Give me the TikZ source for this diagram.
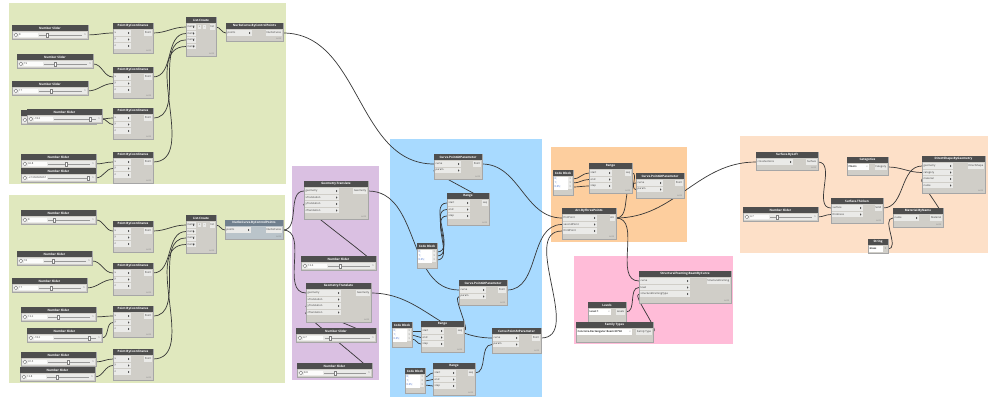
\documentclass[tikz,border=0pt]{standalone}
\usepackage{fontspec}
\setmainfont{Open Sans}
\usetikzlibrary{calc}
\pgfdeclarelayer{grp}
\pgfdeclarelayer{wirelayer}
\pgfsetlayers{grp,wirelayer,main}

\definecolor{grpgreen}{RGB}{224,232,190}
\definecolor{grppurple}{RGB}{218,192,226}
\definecolor{grpblue}{RGB}{168,218,255}
\definecolor{grporange}{RGB}{253,206,158}
\definecolor{grppink}{RGB}{255,188,216}
\definecolor{grppeach}{RGB}{253,224,200}
\definecolor{hdr}{RGB}{78,78,78}
\definecolor{bodyc}{RGB}{208,206,200}
\definecolor{portc}{RGB}{234,234,232}
\definecolor{wirec}{RGB}{55,55,55}
\definecolor{selhdr}{RGB}{112,128,142}
\definecolor{selbody}{RGB}{186,196,202}
\definecolor{codeblue}{RGB}{40,90,200}

\tikzset{
 hdrtext/.style={text=white, font=\fontsize{3}{3.5}\selectfont\bfseries, inner sep=0},
 porttext/.style={text=black!80, font=\fontsize{2.6}{3}\selectfont, inner sep=0},
 autotext/.style={text=black!55, font=\fontsize{1.8}{2}\selectfont, inner sep=0},
 codetext/.style={text=codeblue, font=\fontsize{2.6}{3}\selectfont, inner sep=0},
 wire/.style={draw=wirec, line width=0.7pt},
 frame/.style={draw=black!35, line width=0.3pt, inner sep=0, rectangle},
}

% Dynamo node: name x y w h title inputs inputwidth outputlabel
\newcommand{\dnode}[9]{%
  \fill[bodyc] (#2,#3) rectangle ++(#4,#5);
  \node[frame, minimum width=#4pt, minimum height=#5pt, anchor=north west] (#1) at (#2,#3) {};
  \fill[hdr] (#2,#3) rectangle ++(#4,6);
  \node[hdrtext] (#1-t) at ({#2+#4/2},{#3+3}) {#6};
  \foreach \lab [count=\i] in {#7} {
    \pgfmathsetmacro\ry{#3+10+6.5*(\i-1)}
    \fill[portc] ({#2+0.8},{\ry-2.7}) rectangle ({#2+#8},{\ry+2.7});
    \node[porttext, anchor=west] (#1-l\i) at ({#2+1.5},\ry) {\lab};
    \fill[black!70] ({#2+#8-3},{\ry-1.2}) -- ({#2+#8-1.6},\ry) -- ({#2+#8-3},{\ry+1.2}) -- cycle;
    \coordinate (#1-in\i) at (#2,\ry);
  }
  \node[porttext, fill=portc, inner sep=0.8pt, anchor=east, minimum height=5.4pt] (#1-ol) at ({#2+#4-0.8},{#3+10}) {#9};
  \coordinate (#1-out) at ({#2+#4},{#3+10});
  \node[autotext, anchor=south east] (#1-a) at ({#2+#4-1.5},{#3+#5-0.8}) {AUTO};
}

% Number slider: name x y w value thumbfraction
\newcommand{\slider}[6]{%
  \fill[bodyc] (#2,#3) rectangle ++(#4,13.5);
  \node[frame, minimum width=#4pt, minimum height=13.5pt, anchor=north west] (#1) at (#2,#3) {};
  \fill[hdr] (#2,#3) rectangle ++(#4,6);
  \node[hdrtext] (#1-t) at ({#2+#4/2},{#3+3}) {Number Slider};
  \fill[portc] ({#2+1},{#3+7.2}) rectangle ({#2+#4-1},{#3+12.6});
  \fill[white!85!portc] ({#2+6.5},{#3+7.6}) rectangle ({#2+0.34*#4},{#3+12.2});
  \draw[black!60, fill=white, line width=0.3pt] ({#2+3.8},{#3+9.9}) circle (1.9);
  \node[porttext, anchor=west] (#1-v) at ({#2+7},{#3+9.9}) {#5};
  \draw[black!40, line width=0.4pt] ({#2+0.36*#4},{#3+9.9}) -- ({#2+#4-6},{#3+9.9});
  \fill[white, draw=black!50, line width=0.2pt] ({#2+#6*#4-1},{#3+7.8}) rectangle ++(2,4.2);
  \node[porttext] (#1-ol) at ({#2+#4-3},{#3+9.9}) {>};
  \coordinate (#1-out) at ({#2+#4},{#3+9.9});
}

% Code block: name x y
\newcommand{\codeblock}[3]{%
  \fill[bodyc] (#2,#3) rectangle ++(20,25);
  \node[frame, minimum width=20pt, minimum height=25pt, anchor=north west] (#1) at (#2,#3) {};
  \fill[hdr] (#2,#3) rectangle ++(20,6);
  \node[hdrtext] (#1-t) at ({#2+10},{#3+3}) {Code Block};
  \fill[white] ({#2+1},{#3+7}) rectangle ({#2+14.5},{#3+19.5});
  \node[codetext, anchor=west] (#1-c1) at ({#2+1.5},{#3+9}) {0;};
  \node[codetext, anchor=west] (#1-c2) at ({#2+1.5},{#3+13}) {1;};
  \node[codetext, anchor=west] (#1-c3) at ({#2+1.5},{#3+17}) {0.05;};
  \foreach \k/\yy in {1/9,2/13,3/17} {
    \fill[portc] ({#2+15.3},{#3+\yy-1.8}) rectangle ({#2+19.3},{#3+\yy+1.8});
    \node[porttext] (#1-g\k) at ({#2+17.3},{#3+\yy}) {>};
    \coordinate (#1-o\k) at ({#2+20},{#3+\yy});
  }
}

% Selection node: name x y w h title value outlabel fieldwidth
\newcommand{\selnode}[9]{%
  \fill[bodyc] (#2,#3) rectangle ++(#4,#5);
  \node[frame, minimum width=#4pt, minimum height=#5pt, anchor=north west] (#1) at (#2,#3) {};
  \fill[hdr] (#2,#3) rectangle ++(#4,6);
  \node[hdrtext] (#1-t) at ({#2+#4/2},{#3+3}) {#6};
  \fill[white] ({#2+1},{#3+7.3}) rectangle ({#2+#9},{#3+12.7});
  \node[porttext, anchor=west, font=\fontsize{2.6}{3}\selectfont\bfseries] (#1-v) at ({#2+1.5},{#3+10}) {#7};
  \node[porttext, text=black!50] (#1-dd) at ({#2+#9-2},{#3+10}) {v};
  \node[porttext, fill=portc, inner sep=0.8pt, anchor=east, minimum height=5.4pt] (#1-ol) at ({#2+#4-0.8},{#3+10}) {#8};
  \coordinate (#1-out) at ({#2+#4},{#3+10});
}

\begin{document}
\begin{tikzpicture}[x=1pt,y=-1pt]
\useasboundingbox (0,0) rectangle (994,400);

\begin{pgfonlayer}{grp}
  \fill[white] (0,0) rectangle (994,400);
  \fill[grpgreen] (9,3) rectangle (286,184);
  \fill[grpgreen] (9,195) rectangle (285,383);
  \fill[grppurple] (292,166) rectangle (379,380);
  \fill[grpblue] (390,139) rectangle (542,397);
  \fill[grporange] (551,147) rectangle (687,242);
  \fill[grppink] (574,256) rectangle (733,344);
  \fill[grppeach] (740,136) rectangle (988,253);
\end{pgfonlayer}

% ---------- top green group ----------
\slider{ts1}{12}{25}{76}{8}{0.46}
\slider{ts2}{17}{54}{76}{19}{0.5}
\slider{ts3}{12}{81}{76}{17}{0.52}
% duplicate slider lying just behind the fourth one
\fill[bodyc] (21,110) rectangle ++(75,13.5);
\node[frame, minimum width=75pt, minimum height=13.5pt, anchor=north west] (ts4b) at (21,110) {};
\fill[hdr] (21,110) rectangle ++(75,6);
\fill[portc] (22,117.2) rectangle (95,122.6);
\draw[black!60, fill=white, line width=0.3pt] (24.8,119.9) circle (1.9);
\slider{ts4}{27}{109}{75}{-18.3}{0.84}
\slider{ts5}{21}{154}{75}{32.8}{0.6}
\slider{ts6}{21}{168}{75}{-2.1666666667}{0.9}
\dnode{tp1}{113}{23}{40}{30}{Point.ByCoordinates}{x,y,z}{18}{Point}
\dnode{tp2}{113}{67}{40}{31}{Point.ByCoordinates}{x,y,z}{18}{Point}
\dnode{tp3}{113}{108}{40}{31}{Point.ByCoordinates}{x,y,z}{18}{Point}
\dnode{tp4}{113}{152}{40}{31}{Point.ByCoordinates}{x,y,z}{18}{Point}
\dnode{tl}{186}{17}{30}{39}{List.Create}{item0,item1,item2,item3}{10}{list}
\node[porttext, fill=portc, minimum width=3.6pt, minimum height=4.6pt] (tlplus) at (199.5,27) {+};
\node[porttext, fill=portc, minimum width=3.6pt, minimum height=4.6pt] (tlminus) at (204.5,27) {-};
\dnode{tn}{226}{23}{57}{18}{NurbsCurve.ByControlPoints}{points}{26}{NurbsCurve}

% ---------- bottom green group ----------
\slider{bs1}{21}{210}{75}{8}{0.44}
\slider{bs2}{17}{251}{75}{18}{0.48}
\slider{bs3}{12}{278}{75}{17}{0.52}
\slider{bs4}{21}{307}{75}{13.2}{0.5}
\slider{bs5}{27}{328}{75}{-18.3}{0.83}
\slider{bs6}{21}{352}{75}{41.5}{0.63}
\slider{bs7}{20}{367}{75}{13.8}{0.5}
\dnode{bp1}{113}{221}{40}{31}{Point.ByCoordinates}{x,y,z}{18}{Point}
\dnode{bp2}{113}{263}{40}{32}{Point.ByCoordinates}{x,y,z}{18}{Point}
\dnode{bp3}{113}{306}{40}{31}{Point.ByCoordinates}{x,y,z}{18}{Point}
\dnode{bp4}{113}{349}{40}{31}{Point.ByCoordinates}{x,y,z}{18}{Point}
\dnode{bl}{186}{215}{30}{38}{List.Create}{item0,item1,item2,item3}{10}{list}
\node[porttext, fill=portc, minimum width=3.6pt, minimum height=4.6pt] (blplus) at (199.5,225) {+};
\node[porttext, fill=portc, minimum width=3.6pt, minimum height=4.6pt] (blminus) at (204.5,225) {-};
{\colorlet{hdr}{selhdr}\colorlet{bodyc}{selbody}%
\dnode{bn}{225}{220}{58}{19}{NurbsCurve.ByControlPoints}{points}{26}{NurbsCurve}}

% ---------- purple group ----------
\dnode{g1}{304}{181}{64}{38}{Geometry.Translate}{geometry,xTranslation,yTranslation,zTranslation}{35}{Geometry}
\slider{ps1}{301}{256}{75}{13.6}{0.52}
\dnode{g2}{306}{283}{65}{39}{Geometry.Translate}{geometry,xTranslation,yTranslation,zTranslation}{35}{Geometry}
\slider{ps2}{296}{328}{80}{4.7}{0.43}
\slider{ps3}{297}{363}{75}{8.8}{0.51}

% ---------- blue group ----------
\dnode{c1}{434}{154}{48}{25}{Curve.PointAtParameter}{curve,param}{27}{Point}
\dnode{r1}{447}{193}{42}{32}{Range}{start,end,step}{23}{seq}
\codeblock{cb1}{417}{243}
\dnode{c2}{459}{280}{48}{25}{Curve.PointAtParameter}{curve,param}{27}{Point}
\codeblock{cb2}{392}{322}
\dnode{r2}{421}{321}{43}{31}{Range}{start,end,step}{23}{seq}
\dnode{c3}{492}{328}{49}{25}{Curve.PointAtParameter}{curve,param}{27}{Point}
\codeblock{cb3}{405}{368}
\dnode{r3}{433}{363}{42}{32}{Range}{start,end,step}{23}{seq}

% ---------- orange group ----------
\codeblock{cb4}{553}{170}
\dnode{r4}{589}{163}{43}{30}{Range}{start,end,step}{23}{seq}
\dnode{c4}{636}{173}{48}{25}{Curve.PointAtParameter}{curve,param}{27}{Point}
\dnode{arc}{562}{208}{54}{31}{Arc.ByThreePoints}{firstPoint,secondPoint,thirdPoint}{35}{Arc}

% ---------- pink group ----------
\dnode{sf}{639}{271}{92}{32}{StructuralFraming.BeamByCurve}{curve,level,structuralFramingType}{51}{StructuralFraming}
\selnode{lev}{588}{302}{38}{20}{Levels}{Level 1}{Levels}{23}
\selnode{ft}{576}{322}{77}{20}{Family Types}{Concrete-Rectangular Beam:30*60}{Family Type}{56}

% ---------- peach group ----------
\dnode{loft}{756}{152}{62}{18}{Surface.ByLoft}{crossSections}{37}{Surface}
\slider{rs}{743}{207}{75}{4.7}{0.45}
\selnode{cat}{847}{157}{41}{18}{Categories}{Floors}{Category}{22}
\dnode{th}{831}{198}{52}{25}{Surface.Thicken}{surface,thickness}{32}{Solid}
\dnode{ds}{922}{156}{63}{37}{DirectShape.ByGeometry}{geometry,category,material,name}{31}{DirectShape}
\dnode{mat}{893}{208}{50}{19}{Material.ByName}{name}{26}{Material}
% String node
\fill[bodyc] (868,239) rectangle ++(20,14);
\node[frame, minimum width=20pt, minimum height=14pt, anchor=north west] (str) at (868,239) {};
\fill[hdr] (868,239) rectangle ++(20,6);
\node[hdrtext] (str-t) at (878,242) {String};
\fill[white] (869,246.3) rectangle (883,251.7);
\node[porttext, anchor=west, font=\fontsize{2.6}{3}\selectfont\bfseries] (str-v) at (869.5,249) {Glass};
\node[porttext] (str-ol) at (885.5,249) {>};
\coordinate (str-out) at (888,249);

% ---------- wires ----------
\begin{pgfonlayer}{wirelayer}
\tikzset{every path/.style={wire}}
% top group
\draw (ts1-out) to[out=0,in=180] (tp1-in1);
\draw (ts2-out) to[out=0,in=180] (tp2-in1);
\draw (ts3-out) to[out=0,in=180] (tp2-in2);
\draw (ts4-out) to[out=0,in=180] (tp3-in1);
\draw (ts4-out) to[out=0,in=180] (tp3-in2);
\draw (ts5-out) to[out=0,in=180] (tp4-in1);
\draw (ts6-out) to[out=0,in=180] (tp4-in2);
\draw (tp1-out) to[out=0,in=180] (tl-in1);
\draw (tp2-out) to[out=0,in=180] (tl-in2);
\draw (tp3-out) to[out=0,in=180] (tl-in3);
\draw (tp4-out) to[out=0,in=180] (tl-in4);
\draw (tl-out) to[out=0,in=180] (tn-in1);
\draw (tn-out) to[out=0,in=180] (c1-in1);
% bottom group
\draw (bs1-out) to[out=0,in=180] (bp1-in1);
\draw (bs2-out) to[out=0,in=180] (bp2-in1);
\draw (bs3-out) to[out=0,in=180] (bp2-in2);
\draw (bs4-out) to[out=0,in=180] (bp3-in1);
\draw (bs5-out) to[out=0,in=180] (bp3-in2);
\draw (bs6-out) to[out=0,in=180] (bp4-in1);
\draw (bs7-out) to[out=0,in=180] (bp4-in2);
\draw (bp1-out) to[out=0,in=180] (bl-in1);
\draw (bp2-out) to[out=0,in=180] (bl-in2);
\draw (bp3-out) to[out=0,in=180] (bl-in3);
\draw (bp4-out) to[out=0,in=180] (bl-in4);
\draw (bl-out) to[out=0,in=180] (bn-in1);
\draw (bn-out) to[out=0,in=180] (g1-in1);
\draw (bn-out) to[out=0,in=180] (g2-in1);
% purple
\draw (ps1-out) to[out=0,in=180,looseness=0.2] (g1-in3);
\draw (ps2-out) to[out=0,in=180,looseness=0.2] (g2-in3);
\draw (ps3-out) to[out=0,in=180,looseness=0.2] (g2-in4);
\draw (g1-out) to[out=0,in=180] (c2-in1);
\draw (g2-out) to[out=0,in=180] (c3-in1);
% blue
\draw (cb1-o1) to[out=0,in=180] (r1-in1);
\draw (cb1-o2) to[out=0,in=180] (r1-in2);
\draw (cb1-o3) to[out=0,in=180] (r1-in3);
\draw (r1-out) to[out=0,in=180,looseness=0.2] (c1-in2);
\draw (cb2-o1) to[out=0,in=180] (r2-in1);
\draw (cb2-o2) to[out=0,in=180] (r2-in2);
\draw (cb2-o3) to[out=0,in=180] (r2-in3);
\draw (r2-out) to[out=0,in=180,looseness=0.5] (c2-in2);
\draw (cb3-o1) to[out=0,in=180] (r3-in1);
\draw (cb3-o2) to[out=0,in=180] (r3-in2);
\draw (cb3-o3) to[out=0,in=180] (r3-in3);
\draw (r3-out) to[out=0,in=180] (c3-in2);
\draw (c1-out) to[out=0,in=180] (arc-in1);
\draw (c2-out) to[out=0,in=180] (arc-in2);
\draw (c3-out) to[out=0,in=180] (arc-in3);
% orange
\draw (cb4-o1) to[out=0,in=180] (r4-in1);
\draw (cb4-o2) to[out=0,in=180] (r4-in2);
\draw (cb4-o3) to[out=0,in=180] (r4-in3);
\draw (r4-out) to[out=0,in=180] (c4-in2);
\draw (arc-out) to[out=0,in=180] (c4-in1);
\draw (arc-out) to[out=0,in=180] (sf-in1);
\draw (arc-out) to[out=0,in=180] (loft-in1);
% pink
\draw (lev-out) to[out=0,in=180] (sf-in2);
\draw (ft-out) to[out=0,in=180,looseness=0.5] (sf-in3);
% peach
\draw (loft-out) to[out=0,in=180] (th-in1);
\draw (rs-out) to[out=0,in=180] (th-in2);
\draw (th-out) to[out=0,in=180] (ds-in1);
\draw (cat-out) to[out=0,in=180] (ds-in2);
\draw (mat-out) to[out=0,in=180,looseness=0.3] (ds-in3);
\draw (str-out) to[out=0,in=180] (mat-in1);
\end{pgfonlayer}
\end{tikzpicture}
\end{document}
